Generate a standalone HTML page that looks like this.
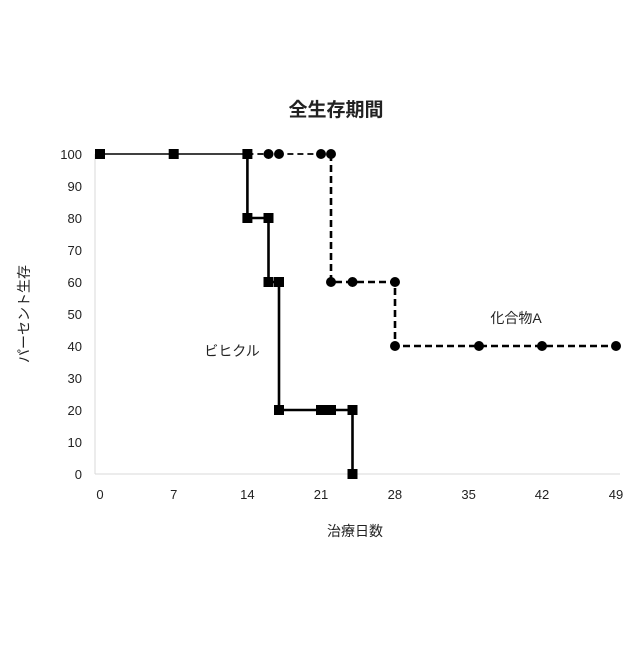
<!DOCTYPE html>
<html><head><meta charset="utf-8"><style>
html,body{margin:0;padding:0;background:#fff;}
text{font-family:"Liberation Sans","Noto Sans CJK JP",sans-serif;fill:#222;}
</style></head><body>
<svg width="640" height="640" viewBox="0 0 640 640" xmlns="http://www.w3.org/2000/svg">
<text x="336" y="116" font-size="19" font-weight="bold" text-anchor="middle">全生存期間</text>
<line x1="95" y1="154" x2="95" y2="474" stroke="#d9d9d9" stroke-width="1"/>
<line x1="95" y1="474" x2="620" y2="474" stroke="#d9d9d9" stroke-width="1"/>
<g font-size="13" text-anchor="end">
<text x="82" y="159">100</text><text x="82" y="191">90</text><text x="82" y="223">80</text>
<text x="82" y="255">70</text><text x="82" y="287">60</text><text x="82" y="319">50</text>
<text x="82" y="351">40</text><text x="82" y="383">30</text><text x="82" y="415">20</text>
<text x="82" y="447">10</text><text x="82" y="479">0</text>
</g>
<g font-size="13" text-anchor="middle">
<text x="100" y="499">0</text><text x="173.7" y="499">7</text><text x="247.4" y="499">14</text>
<text x="321" y="499">21</text><text x="394.9" y="499">28</text><text x="468.6" y="499">35</text>
<text x="542" y="499">42</text><text x="616" y="499">49</text>
</g>
<text x="355" y="536" font-size="14" text-anchor="middle">治療日数</text>
<text transform="translate(29,314) rotate(-90)" font-size="14" text-anchor="middle">パーセント生存</text>
<text x="232" y="356" font-size="14" text-anchor="middle">ビヒクル</text>
<text x="516" y="323" font-size="14" text-anchor="middle">化合物A</text>
<!-- compound A dashed -->
<polyline points="247.4,154 331,154" fill="none" stroke="#000" stroke-width="1.8" stroke-dasharray="6,4"/>
<polyline points="331,154 331,282 395,282 395,346 616,346" fill="none" stroke="#000" stroke-width="2.6" stroke-dasharray="7,4"/>
<g fill="#000">
<circle cx="268.5" cy="154" r="5"/><circle cx="279" cy="154" r="5"/><circle cx="321" cy="154" r="5"/><circle cx="331" cy="154" r="5"/>
<circle cx="331" cy="282" r="5"/><circle cx="352.5" cy="282" r="5"/><circle cx="395" cy="282" r="5"/>
<circle cx="395" cy="346" r="5"/><circle cx="479" cy="346" r="5"/><circle cx="542" cy="346" r="5"/><circle cx="616" cy="346" r="5"/>
</g>
<!-- vehicle solid -->
<polyline points="100,154 247.4,154" fill="none" stroke="#000" stroke-width="1.6"/>
<polyline points="247.4,154 247.4,218 268.5,218 268.5,282 279,282 279,410 352.5,410 352.5,474" fill="none" stroke="#000" stroke-width="2.6"/>
<g fill="#000">
<rect x="95" y="149" width="10" height="10"/><rect x="168.7" y="149" width="10" height="10"/><rect x="242.4" y="149" width="10" height="10"/>
<rect x="242.4" y="213" width="10" height="10"/><rect x="263.5" y="213" width="10" height="10"/>
<rect x="263.5" y="277" width="10" height="10"/><rect x="274" y="277" width="10" height="10"/>
<rect x="274" y="405" width="10" height="10"/><rect x="316" y="405" width="10" height="10"/><rect x="326" y="405" width="10" height="10"/>
<rect x="347.5" y="405" width="10" height="10"/><rect x="347.5" y="469" width="10" height="10"/>
</g>
</svg>
</body></html>
